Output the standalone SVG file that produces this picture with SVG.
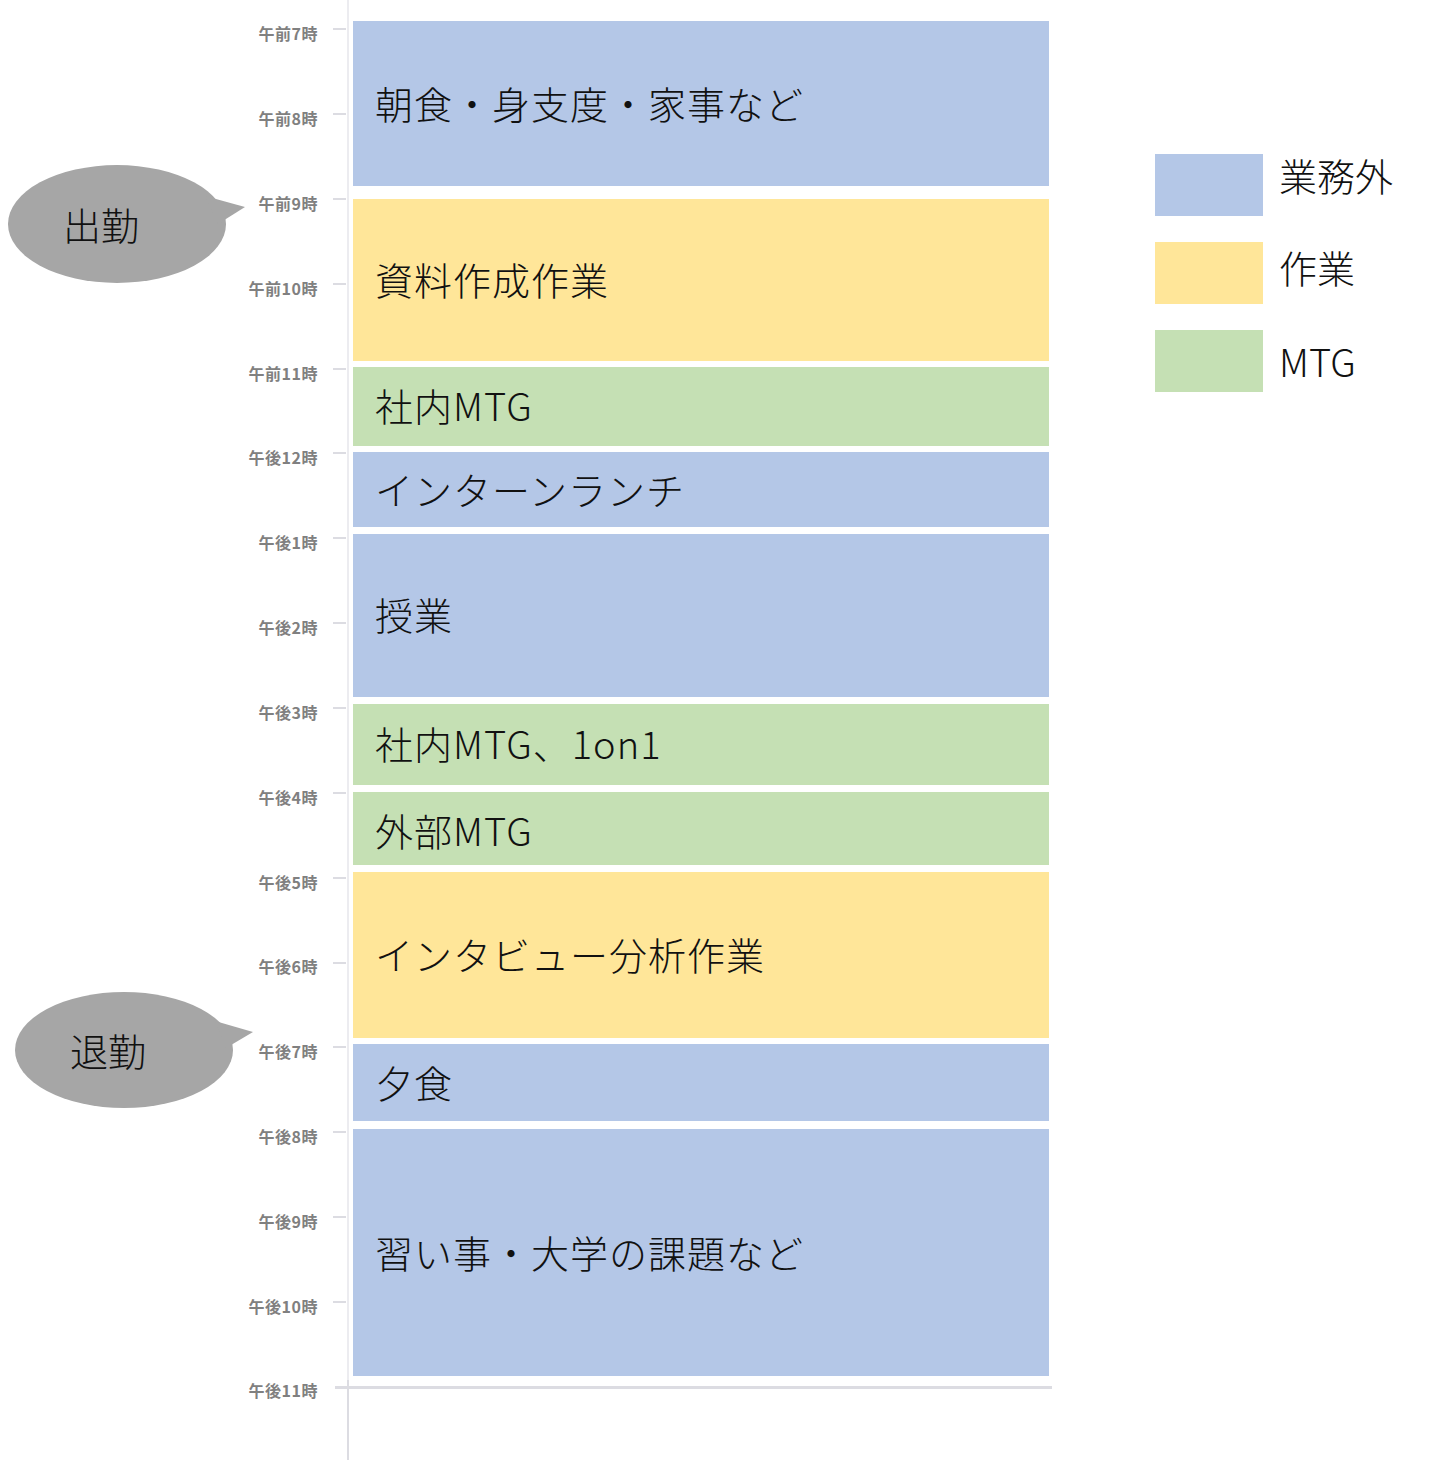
<svg xmlns="http://www.w3.org/2000/svg" width="1440" height="1460" viewBox="0 0 1440 1460">
<style>
.blk-blue{fill:#b4c7e7}
.blk-yellow{fill:#ffe699}
.blk-green{fill:#c5e0b4}
.lbl{font-family:"Noto Sans CJK JP","Noto Sans",sans-serif;font-size:38px;font-weight:300;letter-spacing:1px;fill:#111;dominant-baseline:central}
.leg{font-family:"Noto Sans CJK JP","Noto Sans",sans-serif;font-size:38px;font-weight:300;fill:#111;dominant-baseline:central}
.tm{font-family:"Noto Sans CJK JP","Noto Sans",sans-serif;font-size:16px;font-weight:700;letter-spacing:0.5px;fill:#808080;text-anchor:end;dominant-baseline:central}
.tick{stroke:#dcdce2;stroke-width:2}
.bub{fill:#a6a6a6}
</style>
<rect width="1440" height="1460" fill="#ffffff"/>
<g id="axis">
<line x1="348" y1="0" x2="348" y2="1460" stroke="#ececf0" stroke-width="2"/>
<line x1="348" y1="1380" x2="348" y2="1460" stroke="#dcdce2" stroke-width="2"/>
<line x1="335" y1="1387.5" x2="1052" y2="1387.5" stroke="#dcdce2" stroke-width="3"/>
<g id="ticks">
<line class="tick" x1="333" y1="29" x2="346" y2="29"/>
<line class="tick" x1="333" y1="114" x2="346" y2="114"/>
<line class="tick" x1="333" y1="199" x2="346" y2="199"/>
<line class="tick" x1="333" y1="284" x2="346" y2="284"/>
<line class="tick" x1="333" y1="369" x2="346" y2="369"/>
<line class="tick" x1="333" y1="453" x2="346" y2="453"/>
<line class="tick" x1="333" y1="538" x2="346" y2="538"/>
<line class="tick" x1="333" y1="623" x2="346" y2="623"/>
<line class="tick" x1="333" y1="708" x2="346" y2="708"/>
<line class="tick" x1="333" y1="793" x2="346" y2="793"/>
<line class="tick" x1="333" y1="878" x2="346" y2="878"/>
<line class="tick" x1="333" y1="963" x2="346" y2="963"/>
<line class="tick" x1="333" y1="1047" x2="346" y2="1047"/>
<line class="tick" x1="333" y1="1132" x2="346" y2="1132"/>
<line class="tick" x1="333" y1="1217" x2="346" y2="1217"/>
<line class="tick" x1="333" y1="1302" x2="346" y2="1302"/>
</g>
<g id="time-labels">
<text class="tm" x="318" y="33">午前7時</text>
<text class="tm" x="318" y="118">午前8時</text>
<text class="tm" x="318" y="203">午前9時</text>
<text class="tm" x="318" y="288">午前10時</text>
<text class="tm" x="318" y="373">午前11時</text>
<text class="tm" x="318" y="457">午後12時</text>
<text class="tm" x="318" y="542">午後1時</text>
<text class="tm" x="318" y="627">午後2時</text>
<text class="tm" x="318" y="712">午後3時</text>
<text class="tm" x="318" y="797">午後4時</text>
<text class="tm" x="318" y="882">午後5時</text>
<text class="tm" x="318" y="966">午後6時</text>
<text class="tm" x="318" y="1051">午後7時</text>
<text class="tm" x="318" y="1136">午後8時</text>
<text class="tm" x="318" y="1221">午後9時</text>
<text class="tm" x="318" y="1306">午後10時</text>
<text class="tm" x="318" y="1390">午後11時</text>
</g>
</g>
<g id="blocks">
<g id="b1"><rect class="blk-blue" x="353" y="21" width="696" height="165"/><text class="lbl" x="375" y="102">朝食・身支度・家事など</text></g>
<g id="b2"><rect class="blk-yellow" x="353" y="199" width="696" height="162"/><text class="lbl" x="375" y="278">資料作成作業</text></g>
<g id="b3"><rect class="blk-green" x="353" y="367" width="696" height="79"/><text class="lbl" x="375" y="404">社内MTG</text></g>
<g id="b4"><rect class="blk-blue" x="353" y="452" width="696" height="75"/><text class="lbl" x="375" y="488">インターンランチ</text></g>
<g id="b5"><rect class="blk-blue" x="353" y="534" width="696" height="163"/><text class="lbl" x="375" y="613">授業</text></g>
<g id="b6"><rect class="blk-green" x="353" y="704" width="696" height="81"/><text class="lbl" x="375" y="742">社内MTG、1on1</text></g>
<g id="b7"><rect class="blk-green" x="353" y="792" width="696" height="73"/><text class="lbl" x="375" y="829">外部MTG</text></g>
<g id="b8"><rect class="blk-yellow" x="353" y="872" width="696" height="166"/><text class="lbl" x="375" y="953">インタビュー分析作業</text></g>
<g id="b9"><rect class="blk-blue" x="353" y="1044" width="696" height="77"/><text class="lbl" x="375" y="1081">夕食</text></g>
<g id="b10"><rect class="blk-blue" x="353" y="1129" width="696" height="247"/><text class="lbl" x="375" y="1251">習い事・大学の課題など</text></g>
</g>
<g id="legend">
<g id="lg1"><rect class="blk-blue" x="1155" y="154" width="108" height="62"/><text class="leg" x="1279" y="174">業務外</text></g>
<g id="lg2"><rect class="blk-yellow" x="1155" y="242" width="108" height="62"/><text class="leg" x="1279" y="266">作業</text></g>
<g id="lg3"><rect class="blk-green" x="1155" y="330" width="108" height="62"/><text class="leg" x="1279" y="360">MTG</text></g>
</g>
<g id="bubble-start">
<ellipse class="bub" cx="117" cy="224" rx="109" ry="59"/>
<polygon class="bub" points="205,196 245,207 218,224"/>
<text class="leg" x="101" y="223" text-anchor="middle">出勤</text>
</g>
<g id="bubble-end">
<ellipse class="bub" cx="124" cy="1050" rx="109" ry="58"/>
<polygon class="bub" points="215,1021 253,1032 226,1048"/>
<text class="leg" x="108" y="1049" text-anchor="middle">退勤</text>
</g>
</svg>
